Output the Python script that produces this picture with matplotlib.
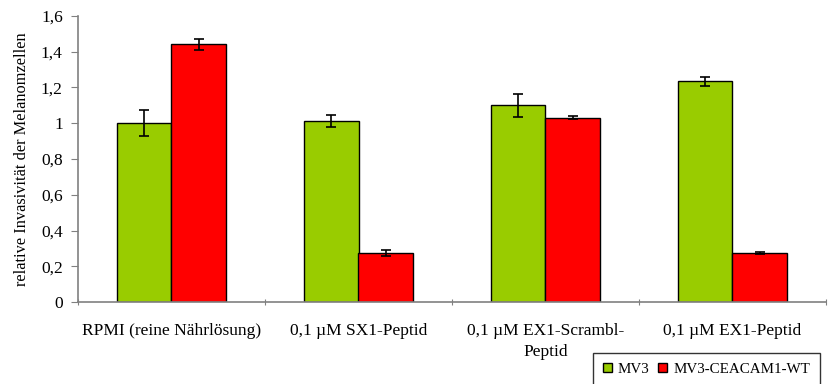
import matplotlib
matplotlib.use("Agg")
import matplotlib.pyplot as plt
import numpy as np
from matplotlib.ticker import FuncFormatter

categories = ["RPMI (reine Nährlösung)", "0,1 µM SX1-Peptid",
              "0,1 µM EX1-Scrambl-\nPeptid", "0,1 µM EX1-Peptid"]
mv3 = [1.00, 1.014, 1.10, 1.235]
mv3_err = [0.073, 0.033, 0.065, 0.025]
ceacam = [1.442, 0.275, 1.031, 0.272]
ceacam_err = [0.032, 0.015, 0.01, 0.006]
series_names = ["MV3", "MV3-CEACAM1-WT"]

plt.rcParams['font.family'] = ['Liberation Serif', 'DejaVu Serif']

fig = plt.figure(figsize=(8.29, 3.84), dpi=100)
ax = fig.add_axes([78/829, 1-302/384, (826-78)/829, (302-16)/384])

x = np.arange(len(categories))
w = 0.29
ekw = dict(ecolor='black', elinewidth=1.2, capsize=3.8, capthick=1.2)
ax.bar(x - w/2, mv3, w, yerr=mv3_err, color='#99CC00', edgecolor='black',
       linewidth=1.0, label=series_names[0], error_kw=ekw, zorder=2)
ax.bar(x + w/2, ceacam, w, yerr=ceacam_err, color='#FF0000', edgecolor='black',
       linewidth=1.0, label=series_names[1], error_kw=ekw, zorder=2)

ax.set_xlim(-0.5, len(categories) - 0.5)
ax.set_ylim(0, 1.6)
ax.set_yticks(np.arange(0, 1.61, 0.2))
ax.yaxis.set_major_formatter(FuncFormatter(lambda v, p: ('%g' % round(v, 1)).replace('.', ',')))
ax.set_xticks(np.arange(-0.5, len(categories), 1.0))
ax.set_xticklabels([])
ax.set_xticks(x, minor=True)
ax.set_xticklabels(categories, minor=True, fontsize=12.5, linespacing=1.45)
ax.tick_params(axis='x', which='minor', length=0, pad=15)
ax.tick_params(axis='x', which='major', length=5, direction='inout', color='#808080')
ax.tick_params(axis='y', length=5, direction='out', color='#808080', labelsize=12.5, pad=6)

for s in ['top', 'right']:
    ax.spines[s].set_visible(False)
for s in ['left', 'bottom']:
    ax.spines[s].set_color('#808080')
    ax.spines[s].set_linewidth(1.2)

ax.set_ylabel("relative Invasivität der Melanomzellen", fontsize=11.8, labelpad=8)

leg = fig.legend(loc='upper right', bbox_to_anchor=(820/829, 1-353/384), borderaxespad=0,
                 ncol=2, fontsize=10.8,
                 frameon=True, fancybox=False, edgecolor='black', handlelength=0.6,
                 handleheight=0.6, handletextpad=0.4, columnspacing=0.6, borderpad=0.65)
leg.get_frame().set_linewidth(1.0)

fig.savefig("out.png", dpi=100)
